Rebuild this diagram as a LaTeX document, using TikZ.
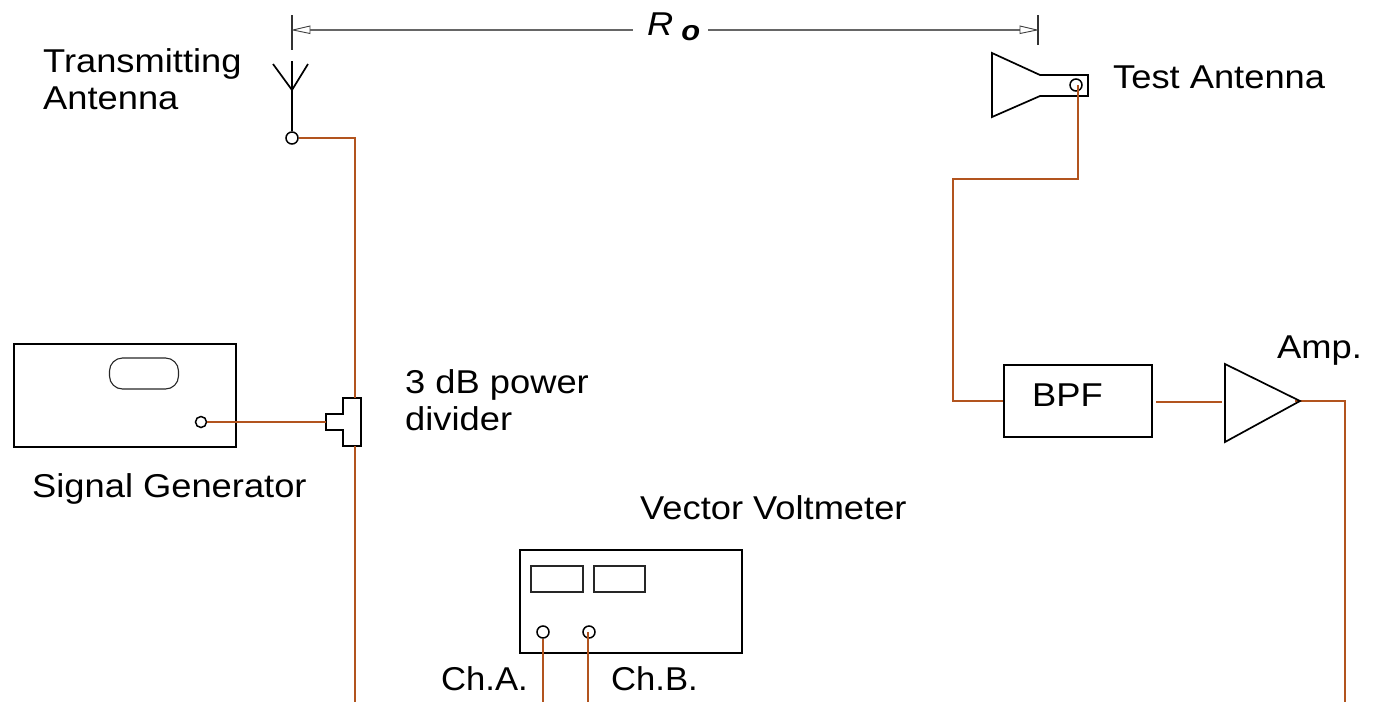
\documentclass[tikz,border=0pt]{standalone}
\usepackage{fontspec}
\setmainfont[FakeStretch=1.1]{Liberation Sans}
\newfontfamily\chfont[FakeStretch=1.05]{Liberation Sans}
\definecolor{wirecol}{RGB}{178,84,30}
\tikzset{
  x=1pt,y=-1pt,
  part/.style={draw=black,line width=1.7pt,line join=miter},
  box/.style={draw=black,line width=1.5pt,inner sep=0pt},
  panel/.style={draw=black!85,line width=1.1pt,inner sep=0pt},
  wire/.style={draw=wirecol,line width=1.9pt},
  dimline/.style={draw=black!60,line width=1.1pt},
  tick/.style={draw=black!80,line width=1.2pt},
  hollow/.style={draw=black!75,fill=white,line width=0.9pt},
  port/.style={circle,draw=black,line width=1.5pt,minimum size=12pt,inner sep=0pt},
  label/.style={font=\fontsize{33}{37}\selectfont,inner sep=0pt,align=left,anchor=west},
}
\begin{document}
\begin{tikzpicture}
\useasboundingbox (0,0) rectangle (1373,702);
% free ends
\coordinate (mainbot) at (355,702);
\coordinate (ampbot) at (1345,702);
\coordinate (chabot) at (543,702);
\coordinate (chbbot) at (588,702);
\coordinate (dl) at (293,30);
\coordinate (dr) at (1037,30);
% dimension
\draw[tick] (292,15) -- (292,50);
\draw[tick] (1038,15) -- (1038,45);
\node[inner sep=0pt,anchor=base west] (ro) at (647,35) {\fontsize{33}{37}\selectfont\textit{R}\hspace{8pt}\raisebox{-5pt}{\fontsize{28}{37}\selectfont\textbf{\textit{o}}}};
\draw[dimline] (310,30) -- (633,30);
\draw[dimline] (708,30) -- (1020,30);
\draw[hollow] (dl) -- (310,26) -- (310,33.5) -- cycle;
\draw[hollow] (dr) -- (1020,26) -- (1020,33.5) -- cycle;
% transmitting antenna
\node[port] (tx) at (292,138) {};
\coordinate (txtop) at (292,61);
\draw[part] (tx) -- (txtop);
\draw[part] (273,64) -- (292,90) -- (308,64);
\node[label] (txl) at (43,79) {Transmitting\\Antenna};
% signal generator
\node[box,minimum width=222pt,minimum height=103pt] (gen) at (125,395.5) {};
\node[panel,rounded corners=13pt,minimum width=69pt,minimum height=31pt] (disp) at (144,373.5) {};
\node[port,minimum size=11pt] (genp) at (201,422) {};
\node[label] (genl) at (32,489) {Signal Generator};
% divider
\coordinate (d1) at (326,414);
\draw[part] (d1) -- (343,414) -- (343,398) -- (361,398) -- (361,446) -- (343,446) -- (343,430) -- (326,430) -- cycle;
\node[label] (divl) at (405,400) {3 dB power\\divider};
% main wire
\draw[wire] (tx) -- (355,138) -- (355,398);
\draw[wire] (355,446) -- (mainbot);
\draw[wire] (genp) -- (326,422);
% test antenna
\draw[part] (992,53) -- (1040,75) -- (1088,75) -- (1088,96) -- (1040,96) -- (992,117) -- cycle;
\node[port] (rx) at (1076,85) {};
\coordinate (rxw) at (1078,85);
\node[label] (rxl) at (1113,77) {Test Antenna};
% BPF
\node[box,minimum width=148pt,minimum height=72pt] (bpf) at (1078,401) {};
\node[label] (bpfl) at (1032,395) {BPF};
\draw[wire] (rxw) -- (1078,179) -- (953,179) -- (953,401) -- (bpf.west);
% amp
\coordinate (ampin) at (1222,402);
\coordinate (ampout) at (1295,401);
\coordinate (bpfout) at (1156,402);
\draw[wire] (bpfout) -- (ampin);
\draw[wire] (ampout) -- (1345,401) -- (ampbot);
\draw[part] (1225,364) -- (1300,401) -- (1225,442) -- cycle;
\node[label] (ampl) at (1277,351) {Amp.};
% vector voltmeter
\node[box,minimum width=222pt,minimum height=103pt] (vv) at (631,601.5) {};
\node[panel,minimum width=52pt,minimum height=26pt] (d1v) at (557,579) {};
\node[panel,minimum width=51pt,minimum height=26pt] (d2v) at (619.5,579) {};
\node[port] (cha) at (543,632) {};
\node[port] (chb) at (589,632) {};
\coordinate (chbc) at (588,632);
\draw[wire] (cha) -- (chabot);
\draw[wire] (chbc) -- (chbbot);
\node[label] (vvl) at (640,508) {Vector Voltmeter};
\node[label,font=\chfont\fontsize{33}{37}\selectfont] (chal) at (441,679) {Ch.A.};
\node[label,font=\chfont\fontsize{33}{37}\selectfont] (chbl) at (611,679) {Ch.B.};
\end{tikzpicture}
\end{document}
